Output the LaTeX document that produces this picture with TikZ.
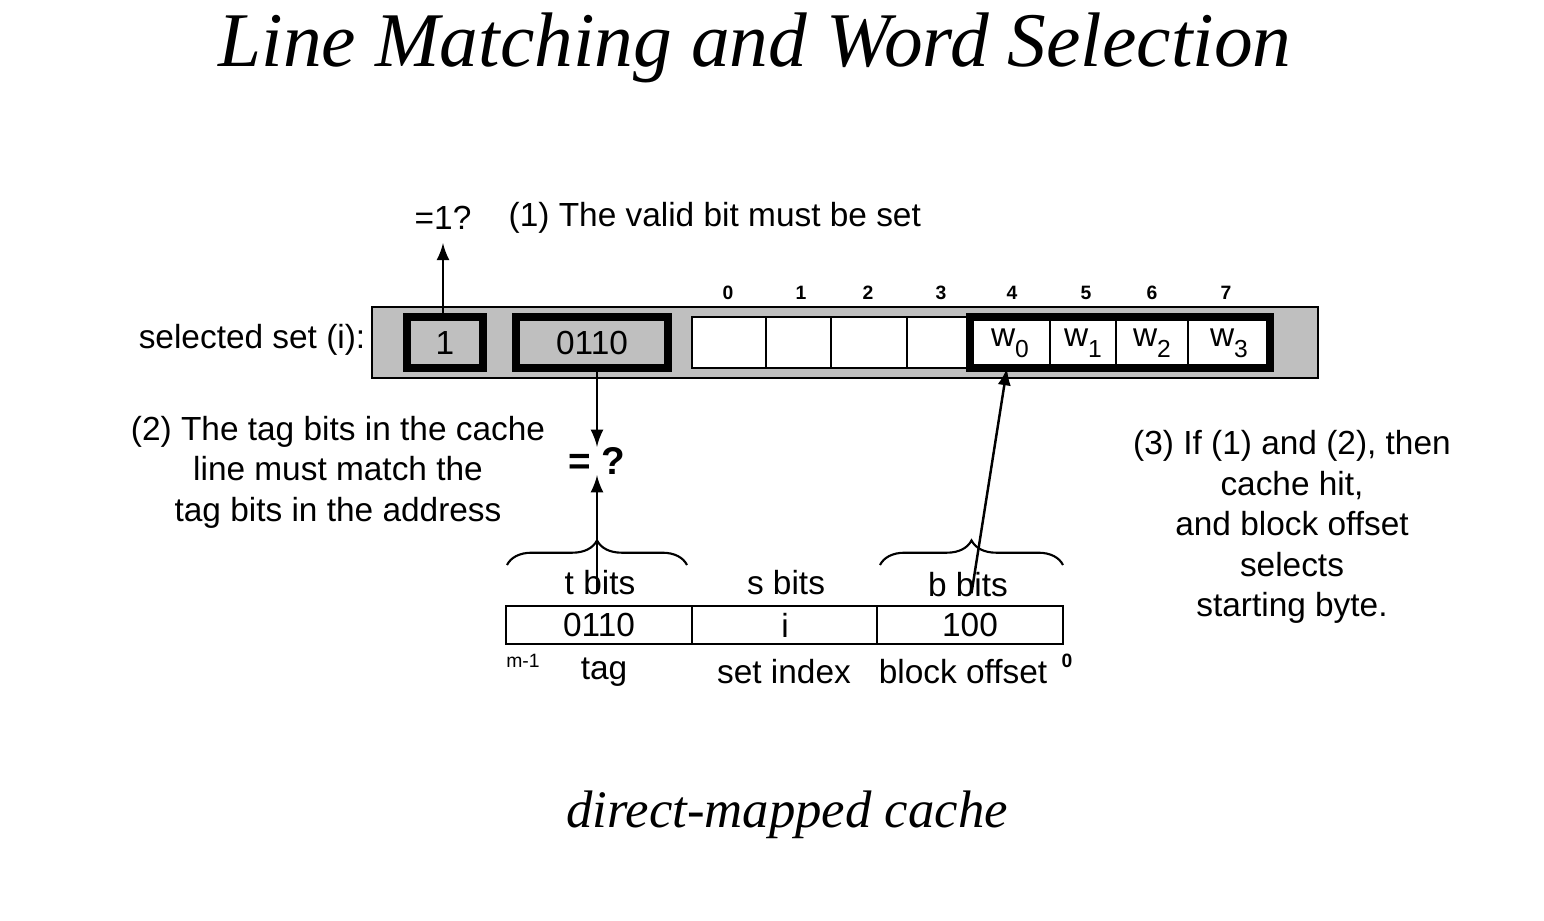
\documentclass[tikz,border=0pt]{standalone}
\usepackage{fontspec}
\setmainfont{Liberation Sans}
\newfontfamily\titlefont{Liberation Serif}
\usetikzlibrary{positioning,decorations.pathreplacing}

\begin{document}
\begin{tikzpicture}[x=0.01cm,y=-0.01cm,>=latex,
	txt/.style={font=\fontsize{9.5}{11.5}\selectfont,inner sep=0pt},
	idx/.style={font=\fontsize{5.5}{6}\selectfont\bfseries,inner sep=0pt},
	cell/.style={draw,fill=white,line width=0.5pt},
	thick box/.style={draw,line width=2.2pt},
	brc/.style={decorate,decoration={brace,amplitude=7pt},line width=0.6pt}]
	\useasboundingbox (0,0) rectangle (1544,920);
	
	\node[font=\titlefont\itshape\fontsize{22}{26}\selectfont] (T) at (755,48) {Line Matching and Word Selection};
	\node[font=\titlefont\itshape\fontsize{15}{18}\selectfont] (C) at (787,815) {direct-mapped cache};
	
	% selected set
	\draw[fill=black!25,line width=0.6pt] (372,307) rectangle (1318,378);
	\node[txt,anchor=east] (S) at (366,340) {selected set (i):};
	\foreach \a/\b in {692/766,766/831,831/907,907/970,970/1050,1050/1116,1116/1188,1188/1270}
		\draw[cell] (\a,317) rectangle (\b,368);
	\draw[thick box] (407,317) rectangle (483,368);
	\node[txt] (V) at (445,343) {1};
	\draw[thick box] (516,317) rectangle (668,368);
	\node[txt] (G) at (592,343) {0110};
	\draw[thick box] (970,317) rectangle (1270,368);
	\foreach \x/\k in {1010/0,1083/1,1152/2,1229/3}
		\node[txt] (w\k) at (\x,343) {w\raisebox{-0.6ex}{\fontsize{7}{8}\selectfont\k}};
	\foreach \x [count=\k from 0] in {728,801,868,941,1012,1086,1152,1226}
		\node[idx] at (\x,293) {\k};
	
	% valid bit
	\coordinate (VT) at (443,317);
	\node[txt] (Q1) at (443,218) {=1?};
	\draw[->,line width=0.7pt] (VT) -- (443,243);
	\node[txt,anchor=west] (N1) at (508,218) {(1) The valid bit must be set};
	
	% tag compare
	\coordinate (GB) at (597,368);
	\node[txt,font=\fontsize{11}{12}\selectfont\bfseries] (EQ) at (597,461) {= ?};
	\draw[->,line width=0.7pt] (GB) -- (EQ.north);
	\node[txt,align=center] (N2) at (338,472) {(2) The tag bits in the cache\\line must match the\\tag bits in the address};
	
	% address
	\draw[line width=0.7pt] (506,606) rectangle (1063,644);
	\draw[line width=0.7pt] (692,606) -- (692,644) (877,606) -- (877,644);
	\node[txt] (At) at (599,625) {0110};
	\node[txt] (As) at (785,625) {i};
	\node[txt] (Ab) at (970,625) {100};
	\node[txt] at (600,583) {t bits};
	\node[txt] at (786,583) {s bits};
	\node[txt] at (968,585) {b bits};
	\node[txt] at (604,672) {tag};
	\node[txt] at (784,672) {set index};
	\node[txt] at (963,672) {block offset};
	\node[idx,font=\fontsize{5.5}{6}\selectfont] at (523,661) {m-1};
	\node[idx] at (1067,661) {0};
	\draw[brc] (507,565) -- (687,565) coordinate[midway] (TB);
	\draw[brc] (880,565) -- (1063,565) coordinate[midway] (BB);
	\draw[->,line width=0.7pt] ([yshift=-8]TB) -- (EQ.south);
	\draw[->,line width=0.7pt] ([yshift=-8]BB) -- (1007,368);
	
	\node[txt,align=center] (N3) at (1292,527) {(3) If (1) and (2), then\\cache hit,\\and block offset\\selects\\starting byte.};
\end{tikzpicture}
\end{document}
